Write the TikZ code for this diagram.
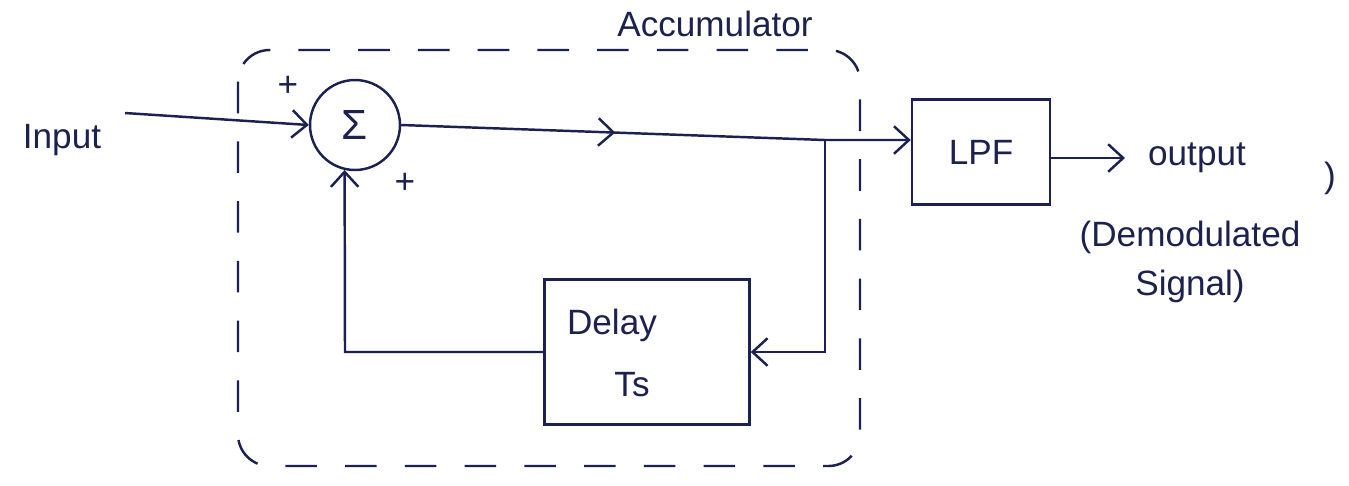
\documentclass[tikz,border=0pt]{standalone}
\usepackage{fontspec}
\setmainfont{Liberation Sans}
\usetikzlibrary{arrows.meta,decorations.markings}
\definecolor{ink}{HTML}{1B2150}
\tikzset{
  x=0.02cm, y=-0.02cm,
  every node/.style={text=ink},
  lbl/.style={font=\fontsize{20}{24}\selectfont, inner sep=0pt},
  blk/.style={draw=ink, line width=1.4pt, rectangle, inner sep=0pt, font=\fontsize{20}{24}\selectfont},
  wire/.style={draw=ink, line width=1.4pt},
  tip/.style={-{Straight Barb[length=3mm,width=5.5mm,line width=1.4pt]}},
  midtip/.style={postaction={decorate}, decoration={markings,
     mark=at position #1 with {\arrow{Straight Barb[length=3mm,width=5.5mm,line width=1.4pt]}}}},
}
\begin{document}
\begin{tikzpicture}
\useasboundingbox (0,0) rectangle (1349,485);
% accumulator dashed box
\draw[ink, line width=1.4pt, dash pattern=on 18pt off 16pt, rounded corners=18pt]
  (238,50) rectangle (860,466);
\node[lbl] (acc) at (715,24) {Accumulator};
% blocks
\node[draw=ink, line width=1.4pt, circle, minimum size=1.8cm, inner sep=0pt, font=\fontsize{24}{26}\selectfont] (sum) at (355,125) {Σ};
\node[blk, minimum width=4.1cm, minimum height=2.9cm] (delay) at (647,352) {};
\node[lbl] (dl1) at (612,325) {Delay};
\node[lbl] (dl2) at (632,385) {Ts};
\node[blk, minimum width=2.76cm, minimum height=2.1cm] (lpf) at (981,152) {LPF};
% texts
\node[lbl] (inp) at (62,140) {Input};
\node[lbl] (pl1) at (288,86) {+};
\node[lbl] (pl2) at (405,183) {+};
\node[lbl] (out) at (1197,158) {output};
\node[lbl, align=center] (dem) at (1190,262) {(Demodulated\\[4pt]Signal)};
\node[lbl] (par) at (1330,178) {)};
% connectors
\coordinate (in) at (125,113);
\coordinate (br) at (825,140);
\coordinate (fb) at (345,352);
\coordinate (oe) at (1125,158);
\draw[wire, tip] (in) -- (sum.west);
\draw[wire, tip, midtip=0.42] (sum.east) -- (br) -- (lpf.west |- br);
\draw[wire, tip] (br) -- (br |- delay.east) -- (delay.east);
\draw[wire, tip] (delay.west) -- (fb) -- (sum.-103);
\draw[wire, tip] (lpf.east |- oe) -- (oe);
\end{tikzpicture}
\end{document}
